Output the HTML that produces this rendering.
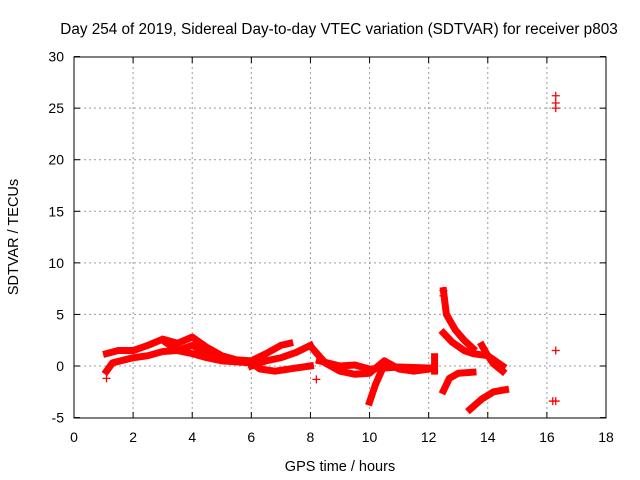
<!DOCTYPE html>
<html><head><meta charset="utf-8"><style>
body{margin:0;background:#fff}
svg{display:block;font-family:"Liberation Sans",sans-serif}
</style></head><body>
<svg id="c" width="640" height="480">
<rect width="640" height="480" fill="#fff"/>
<text x="339" y="34" font-size="15.3" text-anchor="middle">Day 254 of 2019, Sidereal Day-to-day VTEC variation (SDTVAR) for receiver p803</text>
<text x="340" y="471" font-size="14.5" text-anchor="middle">GPS time / hours</text>
<text transform="translate(18,237) rotate(-90)" font-size="14.5" text-anchor="middle">SDTVAR / TECUs</text>
<g id="grid"></g><g id="marks"></g>
<rect x="74" y="57" width="532" height="361" fill="none" stroke="#000"/>
<g id="ticks"></g>
</svg>
<script>
const xTicks=[0,2,4,6,8,10,12,14,16,18];
const yTicks=[-5,0,5,10,15,20,25,30];
const tracks=[
[[1.1,1.2],[1.5,1.5],[2,1.5],[2.5,2.0],[3,2.6],[3.5,2.2],[4,2.8],[4.5,1.8],[5,1.0],[5.5,0.6],[6,0.5],[6.5,1.2],[7,2.0],[7.3,2.2]],
[[1.1,-0.5],[1.3,0.3],[2,0.8],[2.5,1.0],[3,1.4],[3.5,1.5],[4,1.2],[4.5,0.8],[5,0.5],[5.5,0.4],[6,0.3],[6.3,-0.3],[6.8,-0.5],[7.5,-0.2],[8,0]],
[[3,2.5],[3.5,1.5],[4,2.0],[4.5,1.2],[5,0.7]],
[[6,0],[6.5,0.5],[7,0.8],[7.5,1.3],[8,2.0]],
[[8.1,1.6],[8.5,0.3],[9,-0.5],[9.5,-0.8],[10,-0.7],[10.5,0.5],[11,-0.3],[11.5,-0.5],[12,-0.3]],
[[8.3,0.5],[9,0],[9.5,0.1],[10,-0.3],[10.5,-0.2],[11,-0.1],[12,-0.2]],
[[10.4,-0.5],[10.2,-1.8],[10,-3.5]],
[[12.5,7.3],[12.6,5],[12.9,3.5],[13.2,2.5],[13.5,1.7]],
[[12.5,3.2],[12.8,2.3],[13.2,1.5],[13.5,1.2],[14,1],[14.5,0]],
[[13.8,2],[14,1],[14.2,0.2],[14.5,-0.5]],
[[12.5,-2.4],[12.7,-1.2],[13,-0.7],[13.5,-0.6]],
[[13.4,-4.2],[13.8,-3.2],[14.2,-2.5],[14.6,-2.3]],
[[12.2,0.9],[12.2,-0.5]]
];
const points=[[16.3,26.2],[16.3,25.5],[16.3,25],[16.3,1.5],[16.3,-3.4],[16.2,-3.4],[8.2,-1.3],[1.1,-1.2],[12.5,7.3],[12.5,6.8]];
const NS='http://www.w3.org/2000/svg';
const X=v=>74+v*(532/18), Y=v=>366-v*(361/35);
const g=document.getElementById('grid'),m=document.getElementById('marks'),t=document.getElementById('ticks');
function mk(p,tag,a){const e=document.createElementNS(NS,tag);for(const k in a)e.setAttribute(k,a[k]);p.appendChild(e);return e;}
xTicks.forEach(v=>{const x=X(v);
 if(v>0&&v<18){const l=mk(g,'line',{x1:x,x2:x,y1:57,y2:418,stroke:'#999','stroke-dasharray':'2,3'});
 
 }
 mk(t,'line',{x1:x,x2:x,y1:418,y2:412,stroke:'#000'});mk(t,'line',{x1:x,x2:x,y1:57,y2:63,stroke:'#000'});
 const s=mk(t,'text',{x:x,y:442,'font-size':14,'text-anchor':'middle'});s.textContent=v;
 
 });
yTicks.forEach(v=>{const y=Y(v);
 if(v>-5&&v<30){const l=mk(g,'line',{x1:74,x2:606,y1:y,y2:y,stroke:'#999','stroke-dasharray':'2,3'});
 
 }
 mk(t,'line',{x1:74,x2:80,y1:y,y2:y,stroke:'#000'});mk(t,'line',{x1:606,x2:600,y1:y,y2:y,stroke:'#000'});
 const s=mk(t,'text',{x:64,y:y+5,'font-size':14,'text-anchor':'end'});s.textContent=v;
 
 });
tracks.forEach(tr=>{const p=mk(m,'polyline',{points:tr.map(q=>X(q[0])+','+Y(q[1])).join(' '),fill:'none',stroke:'#f00','stroke-width':7,'stroke-linejoin':'round','stroke-linecap':'square'});
 
 });
points.forEach(q=>{const x=X(q[0]),y=Y(q[1]);const p=mk(m,'path',{d:`M${x-4},${y}H${x+4}M${x},${y-4}V${y+4}`,stroke:'#f00','stroke-width':1.3});
 
 });
</script>
</body></html>
